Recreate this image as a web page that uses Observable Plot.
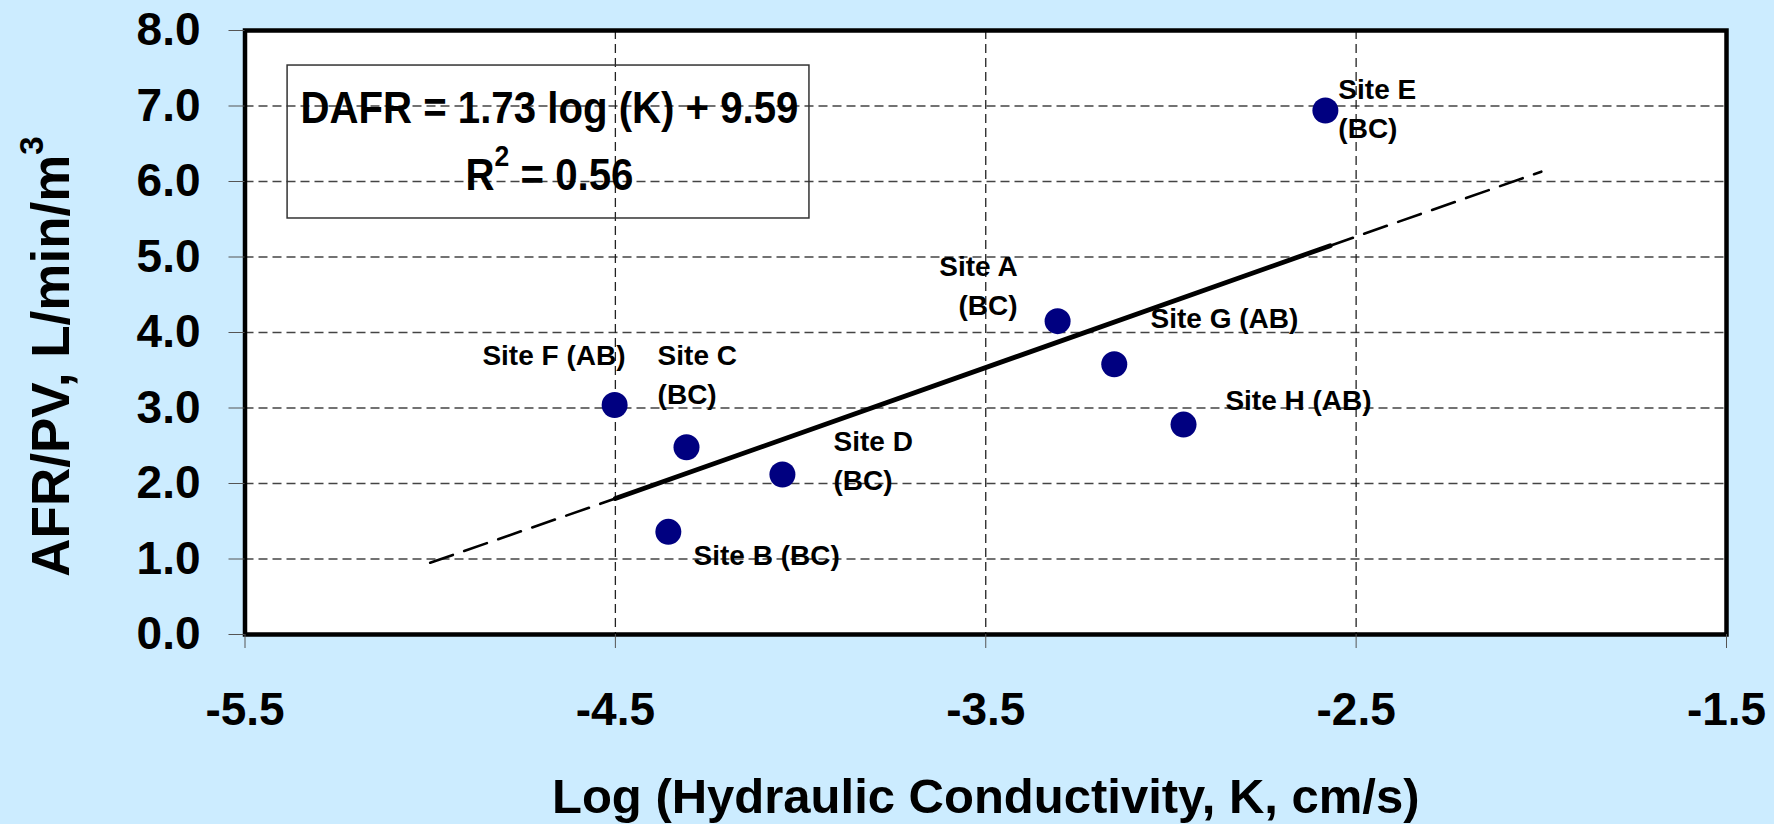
<!DOCTYPE html>
<html>
<head>
<meta charset="utf-8">
<script src="https://cdn.jsdelivr.net/npm/d3@7"></script>
<script src="https://cdn.jsdelivr.net/npm/@observablehq/plot@0.6"></script>
<style>
  html, body { margin: 0; padding: 0; background: #CCECFF; }
  #chart { width: 1774px; height: 824px; }
</style>
</head>
<body>
<div id="chart"></div>
<script>
// ---- data ----
const sites = ["Site A", "Site B", "Site C", "Site D", "Site E", "Site F", "Site G", "Site H"];
const logK = [-3.306, -4.357, -4.308, -4.049, -2.583, -4.502, -3.153, -2.966];
const afrPv = [4.15, 1.36, 2.48, 2.12, 6.94, 3.04, 3.58, 2.78];

const labelText = ["Site A\n(BC)", "Site B (BC)", "Site C\n(BC)", "Site D\n(BC)", "Site E\n(BC)", "Site F (AB)", "Site G (AB)", "Site H (AB)"];
const labelX = [-3.414, -4.289, -4.386, -3.911, -2.548, -4.859, -3.055, -2.853];
const labelY = [5.11, 1.28, 3.93, 2.79, 7.455, 3.93, 4.42, 3.335];
const rightAligned = ["Site A"];

// regression line DAFR = 1.73 log(K) + 9.59 (endpoints)
const fitX = [-4.5, -2.57];
const fitY = [1.80, 5.15];
const extLeftX = [-5.0, -4.5];
const extLeftY = [0.95, 1.80];
const extRightX = [-2.57, -2.0];
const extRightY = [5.15, 6.13];

// equation annotation
const eqLines = ["DAFR = 1.73 log (K) + 9.59", "R² = 0.56"];
const eqX = [-4.678, -4.678];
const eqY = [6.781, 5.881];
const boxX = [-5.385, -3.976];
const boxY = [5.51, 7.536];

// axes
const xTicks = [-5.5, -4.5, -3.5, -2.5, -1.5];
const yTicks = [0, 1, 2, 3, 4, 5, 6, 7, 8];
const xGrid = [-4.5, -3.5, -2.5];
const yGrid = [1, 2, 3, 4, 5, 6, 7];
const xTitle = "Log (Hydraulic Conductivity, K, cm/s)";
const yTitle = "AFR/PV, L/min/m³";

// ---- build tables ----
const points = sites.map((s, i) => ({site: s, x: logK[i], y: afrPv[i]}));
const labels = sites.map((s, i) => ({site: s, text: labelText[i], x: labelX[i], y: labelY[i]}));
const line = (xs, ys) => xs.map((x, i) => ({x, y: ys[i]}));
const eq = eqLines.map((t, i) => ({text: t, x: eqX[i], y: eqY[i]}));

const FONT = "'Liberation Sans', Arial, Helvetica, sans-serif";

const chart = Plot.plot({
  width: 1774,
  height: 824,
  marginLeft: 244.5,
  marginRight: 48,
  marginTop: 30,
  marginBottom: 190,
  style: {background: "#CCECFF", fontFamily: FONT, color: "black"},
  x: {domain: [-5.5, -1.5]},
  y: {domain: [0, 8]},
  marks: [
    Plot.frame({fill: "white", stroke: null}),
    Plot.ruleY(yGrid, {stroke: "#444", strokeWidth: 1.3, strokeDasharray: "9,5"}),
    Plot.ruleX(xGrid, {stroke: "#222", strokeWidth: 1.3, strokeDasharray: "9,5"}),
    Plot.rect([{x1: boxX[0], x2: boxX[1], y1: boxY[0], y2: boxY[1]}], {x1: "x1", x2: "x2", y1: "y1", y2: "y2", fill: "none", stroke: "#333", strokeWidth: 1.5}),
    Plot.line(line(extLeftX, extLeftY), {x: "x", y: "y", stroke: "black", strokeWidth: 2.6, strokeDasharray: "24,12"}),
    Plot.line(line(extRightX, extRightY), {x: "x", y: "y", stroke: "black", strokeWidth: 2.6, strokeDasharray: "24,12"}),
    Plot.line(line(fitX, fitY), {x: "x", y: "y", stroke: "black", strokeWidth: 4.8}),
    Plot.dot(points, {x: "x", y: "y", r: 13, fill: "#000080", stroke: null}),
    Plot.text(labels.filter(d => !rightAligned.includes(d.site)), {x: "x", y: "y", text: "text", textAnchor: "start", lineAnchor: "top", lineHeight: 1.38, fontSize: 28, fontWeight: "bold", fill: "black"}),
    Plot.text(labels.filter(d => rightAligned.includes(d.site)), {x: "x", y: "y", text: "text", textAnchor: "end", lineAnchor: "top", lineHeight: 1.38, fontSize: 28, fontWeight: "bold", fill: "black"}),
    Plot.text(eq, {x: "x", y: "y", text: "text", textAnchor: "middle", lineAnchor: "bottom", fontSize: 44, fontWeight: "bold", fill: "black"}),
    Plot.frame({stroke: "black", strokeWidth: 4.5}),
    Plot.axisY(yTicks, {anchor: "left", tickSize: 16, tickPadding: 28.5, tickFormat: d => d.toFixed(1), fontSize: 46, fontWeight: "bold", label: null, stroke: "#555"}),
    Plot.axisX(xTicks, {anchor: "bottom", tickSize: 14, tickPadding: 44, tickFormat: d => d.toFixed(1), fontSize: 46, fontWeight: "bold", label: null, stroke: "#555"}),
    Plot.text([yTitle], {frameAnchor: "left", rotate: -90, dx: -176.5, dy: 24, textAnchor: "middle", lineAnchor: "bottom", fontSize: 53, fontWeight: "bold", fill: "black"}),
    Plot.text([xTitle], {frameAnchor: "bottom", dy: 178, textAnchor: "middle", lineAnchor: "bottom", fontSize: 49, fontWeight: "bold", fill: "black"})
  ]
});

// turn ² / ³ into real raised superscripts, and condense the equation text as in the reference
function superscript(t, ch, digit, size, rise) {
  const s = t.textContent;
  const i = s.indexOf(ch);
  if (i < 0) return;
  const ns = "http://www.w3.org/2000/svg";
  const before = s.slice(0, i), after = s.slice(i + 1);
  while (t.firstChild) t.removeChild(t.firstChild);
  const a = document.createElementNS(ns, "tspan"); a.textContent = before; t.appendChild(a);
  const sup = document.createElementNS(ns, "tspan");
  sup.textContent = digit; sup.setAttribute("font-size", size); sup.setAttribute("dy", -rise); t.appendChild(sup);
  if (after) {
    const b = document.createElementNS(ns, "tspan");
    b.textContent = after; b.setAttribute("dy", rise); t.appendChild(b);
  }
}
chart.querySelectorAll("text").forEach(t => {
  const s = t.textContent;
  if (s.startsWith("DAFR")) { t.setAttribute("textLength", 498); t.setAttribute("lengthAdjust", "spacingAndGlyphs"); }
  if (s.startsWith("R²")) { superscript(t, "²", "2", 29, 24); t.setAttribute("textLength", 168); t.setAttribute("lengthAdjust", "spacingAndGlyphs"); }
  if (s.startsWith("AFR")) { superscript(t, "³", "3", 33, 26); }
});

document.getElementById("chart").appendChild(chart);
</script>
</body>
</html>
